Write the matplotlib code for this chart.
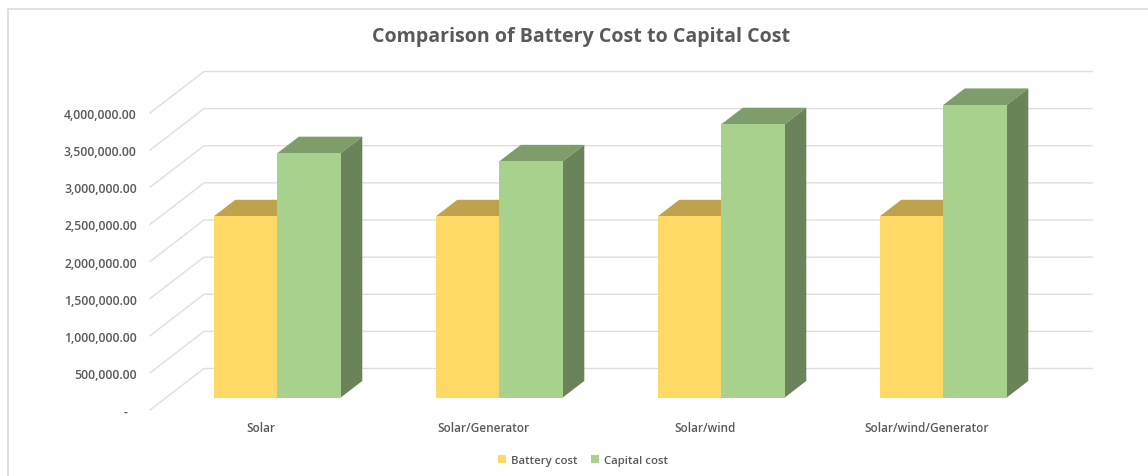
import numpy as np
import matplotlib
matplotlib.use('Agg')
import matplotlib.pyplot as plt
from matplotlib.lines import Line2D

# --- Data ---
categories = ['Solar', 'Solar/Generator', 'Solar/wind', 'Solar/wind/Generator']
battery_cost = [2440000, 2440000, 2440000, 2440000]
capital_cost = [3290000, 3180000, 3680000, 3940000]
y_ticks = [0, 500000, 1000000, 1500000, 2000000, 2500000, 3000000, 3500000, 4000000]
y_labels = ['-   ', '500,000.00', '1,000,000.00', '1,500,000.00', '2,000,000.00',
            '2,500,000.00', '3,000,000.00', '3,500,000.00', '4,000,000.00']

W, H = 1148, 477
TEXT = '#595959'
GRID = '#dedede'
plt.rcParams['font.family'] = ['Open Sans', 'DejaVu Sans']

fig = plt.figure(figsize=(W / 100, H / 100), dpi=100, facecolor='white')

# axes rectangle is the front plane of the fake 3D box, in pixels
left, right, bottom, top = 150, 1038, 411, 114
ax = fig.add_axes([left / W, 1 - bottom / H, (right - left) / W, (bottom - top) / H])
ax.set_xlim(-0.5, 3.5)
ax.set_ylim(0, 4000000)
ax.patch.set_alpha(0)
for s in ax.spines.values():
    s.set_visible(False)

# depth of the box, in data units
x_per_px = 4 / (right - left)
y_per_px = 4000000 / (bottom - top)
depth_x = 54 * x_per_px
depth_y = 41.5 * y_per_px


def project(x, y, d):
    """Shift a front plane point back by depth d (0 front, 1 back wall)."""
    return x + d * depth_x, y + d * depth_y


# --- Walls: gridlines on the back plane plus the floor/side diagonals ---
for v in y_ticks:
    x0, y0 = project(-0.5, v, 0)
    x1, y1 = project(-0.5, v, 1)
    x2, y2 = project(3.5, v, 1)
    ax.plot([x0, x1, x2], [y0, y1, y2], color=GRID, lw=1.0, clip_on=False, zorder=1)

# --- Bars ---
bar_w = 63.5 * x_per_px
d_front, d_back = 0.3, 0.7
base = d_front * depth_y


def top_face(x, val, color, z):
    corners = [project(x - bar_w / 2, val, d_front), project(x + bar_w / 2, val, d_front),
               project(x + bar_w / 2, val, d_back), project(x - bar_w / 2, val, d_back)]
    ax.fill(*zip(*corners), color=color, lw=0, clip_on=False, zorder=z)


def side_face(x, val, color, z):
    corners = [project(x + bar_w / 2, 0, d_front), project(x + bar_w / 2, val, d_front),
               project(x + bar_w / 2, val, d_back), project(x + bar_w / 2, 0, d_back)]
    ax.fill(*zip(*corners), color=color, lw=0, clip_on=False, zorder=z)


pos = np.arange(len(categories))
shift = d_front * depth_x
bars_a = ax.bar(pos + shift - bar_w / 2, battery_cost, bar_w, bottom=base, color='#FFD966',
                label='Battery cost', clip_on=False, zorder=3)
bars_b = ax.bar(pos + shift + bar_w / 2, capital_cost, bar_w, bottom=base, color='#A9D18E',
                label='Capital cost', clip_on=False, zorder=5)
for i in pos:
    top_face(i - bar_w / 2, battery_cost[i], '#BFA34C', 2)
    top_face(i + bar_w / 2, capital_cost[i], '#7F9D6A', 4)
    side_face(i + bar_w / 2, capital_cost[i], '#6A8359', 4)

# --- Ticks ---
ax.set_yticks(y_ticks)
ax.set_yticklabels(y_labels, fontsize=8.8, color=TEXT, fontweight='semibold', va='center_baseline')
ax.set_xticks(pos)
ax.set_xticklabels(categories, fontsize=8.5, color=TEXT, fontweight='semibold')
ax.tick_params(axis='y', length=0, pad=9.5)
ax.tick_params(axis='x', length=0, pad=8)

# --- Title and legend ---
fig.text(581 / W, 1 - 37 / H, 'Comparison of Battery Cost to Capital Cost', ha='center', va='center',
         fontsize=14.1, fontweight='bold', color=TEXT)
leg = fig.legend(handles=[bars_a, bars_b], loc='center', bbox_to_anchor=(583 / W, 1 - 461.5 / H), ncol=2,
                 frameon=False, fontsize=8.2, handlelength=0.7, handleheight=0.7,
                 handletextpad=0.4, columnspacing=1.2, labelcolor=TEXT)
for t in leg.get_texts():
    t.set_fontweight('semibold')

# --- Chart frame, only top and left show in the crop ---
fig.add_artist(Line2D([8 / W, 8 / W], [0, 1 - 10 / H], color=GRID, lw=1.3))
fig.add_artist(Line2D([8 / W, 1], [1 - 10 / H, 1 - 10 / H], color=GRID, lw=1.3))

fig.savefig('out.png', dpi=100)
